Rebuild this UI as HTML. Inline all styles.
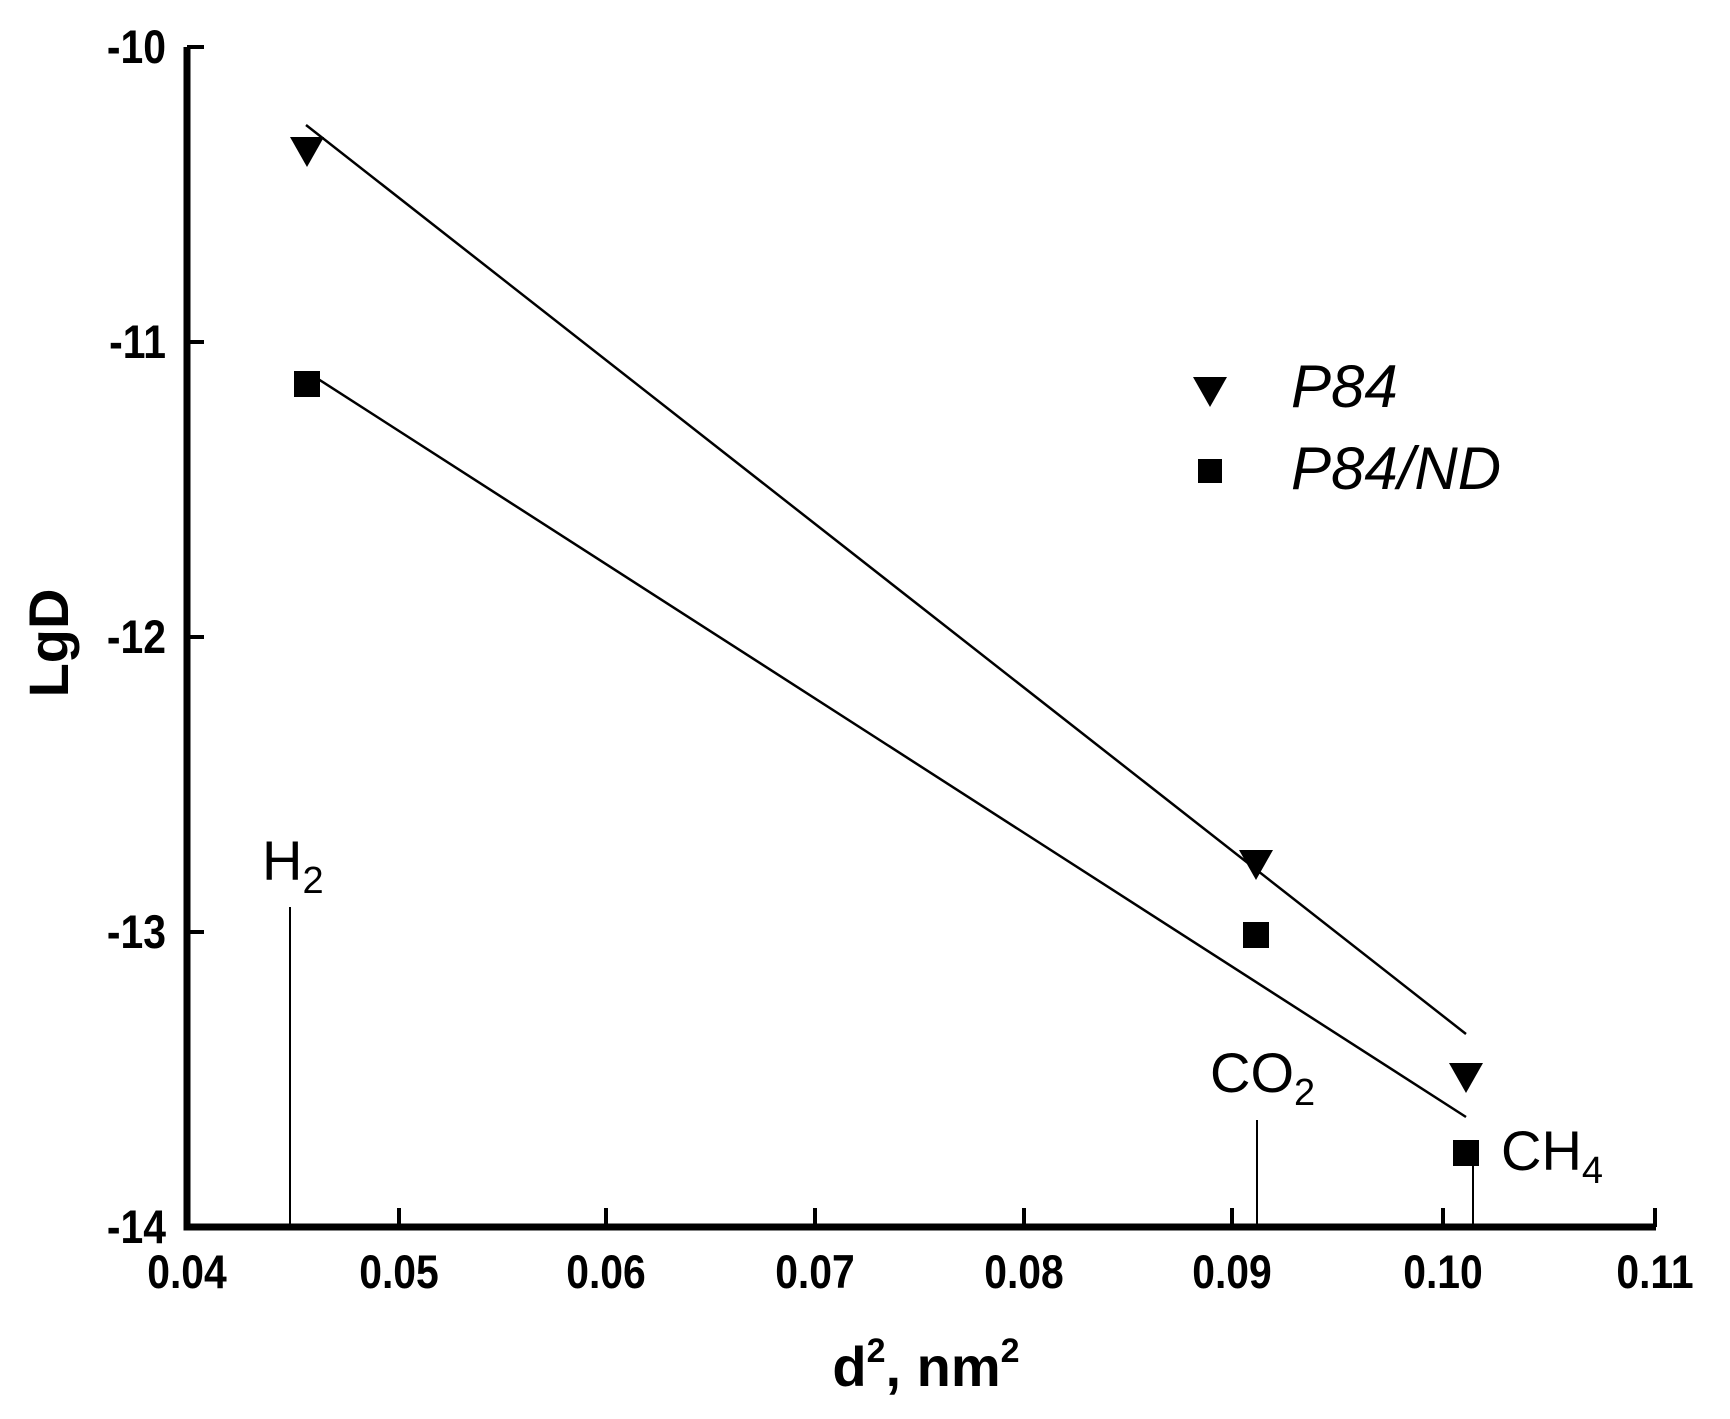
<!DOCTYPE html>
<html><head><style>html,body{margin:0;padding:0;background:#fff}</style></head><body>
<svg width="1730" height="1414" xmlns="http://www.w3.org/2000/svg" font-family="Liberation Sans, sans-serif">
<rect width="1730" height="1414" fill="#fff"/>
<g stroke="#000" stroke-width="7" fill="none">
<polyline points="187,47 187,1227 1656,1227"/>
</g>
<g stroke="#000" stroke-width="4">
<line x1="187" y1="47" x2="204" y2="47"/><line x1="187" y1="342" x2="204" y2="342"/>
<line x1="187" y1="637" x2="204" y2="637"/><line x1="187" y1="932" x2="204" y2="932"/>
<line x1="399" y1="1227" x2="399" y2="1208"/><line x1="606" y1="1227" x2="606" y2="1208"/>
<line x1="815" y1="1227" x2="815" y2="1208"/><line x1="1024" y1="1227" x2="1024" y2="1208"/>
<line x1="1232" y1="1227" x2="1232" y2="1208"/><line x1="1443" y1="1227" x2="1443" y2="1208"/>
<line x1="1655" y1="1227" x2="1655" y2="1208"/>
</g>
<g font-weight="bold" font-size="47" text-anchor="end">
<text x="166" y="63" transform="translate(166 0) scale(0.87 1) translate(-166 0)">-10</text>
<text x="166" y="358" transform="translate(166 0) scale(0.87 1) translate(-166 0)">-11</text>
<text x="166" y="653" transform="translate(166 0) scale(0.87 1) translate(-166 0)">-12</text>
<text x="166" y="948" transform="translate(166 0) scale(0.87 1) translate(-166 0)">-13</text>
<text x="166" y="1243" transform="translate(166 0) scale(0.87 1) translate(-166 0)">-14</text>
</g>
<g font-weight="bold" font-size="47" text-anchor="middle">
<text x="187" y="1288" transform="translate(187 0) scale(0.87 1) translate(-187 0)">0.04</text>
<text x="399" y="1288" transform="translate(399 0) scale(0.87 1) translate(-399 0)">0.05</text>
<text x="606" y="1288" transform="translate(606 0) scale(0.87 1) translate(-606 0)">0.06</text>
<text x="815" y="1288" transform="translate(815 0) scale(0.87 1) translate(-815 0)">0.07</text>
<text x="1024" y="1288" transform="translate(1024 0) scale(0.87 1) translate(-1024 0)">0.08</text>
<text x="1232" y="1288" transform="translate(1232 0) scale(0.87 1) translate(-1232 0)">0.09</text>
<text x="1443" y="1288" transform="translate(1443 0) scale(0.87 1) translate(-1443 0)">0.10</text>
<text x="1655" y="1288" transform="translate(1655 0) scale(0.87 1) translate(-1655 0)">0.11</text>
<text x="926" y="1386" font-size="56">d<tspan font-size="34" dy="-24">2</tspan><tspan dy="24">, nm</tspan><tspan font-size="34" dy="-24">2</tspan></text>
<text transform="translate(68 643) rotate(-90)" font-size="56">LgD</text>
</g>
<g stroke="#000" stroke-width="2.5">
<line x1="306" y1="125" x2="1466" y2="1034"/>
<line x1="315" y1="377" x2="1466" y2="1117"/>
<line x1="290" y1="907" x2="290" y2="1227" stroke-width="2"/>
<line x1="1257" y1="1120" x2="1257" y2="1227" stroke-width="2"/>
<line x1="1473" y1="1164" x2="1473" y2="1227" stroke-width="2"/>
</g>
<g fill="#000">
<polygon points="290,137 324,137 307,167"/>
<polygon points="1239,850 1273,850 1256,880"/>
<polygon points="1449,1063 1483,1063 1466,1093"/>
<rect x="294" y="371" width="26" height="26"/>
<rect x="1243" y="922" width="26" height="26"/>
<rect x="1453" y="1140" width="26" height="26"/>
<polygon points="1193,377 1227,377 1210,407"/>
<rect x="1198" y="459" width="24" height="24"/>
</g>
<g font-size="56">
<text x="262" y="880">H<tspan font-size="38" dy="13">2</tspan></text>
<text x="1210" y="1092">CO<tspan font-size="38" dy="13">2</tspan></text>
<text x="1501" y="1170">CH<tspan font-size="38" dy="13">4</tspan></text>
<text x="1291" y="407" font-style="italic" font-size="60">P84</text>
<text x="1291" y="489" font-style="italic" font-size="60">P84/ND</text>
</g>
</svg>
</body></html>
